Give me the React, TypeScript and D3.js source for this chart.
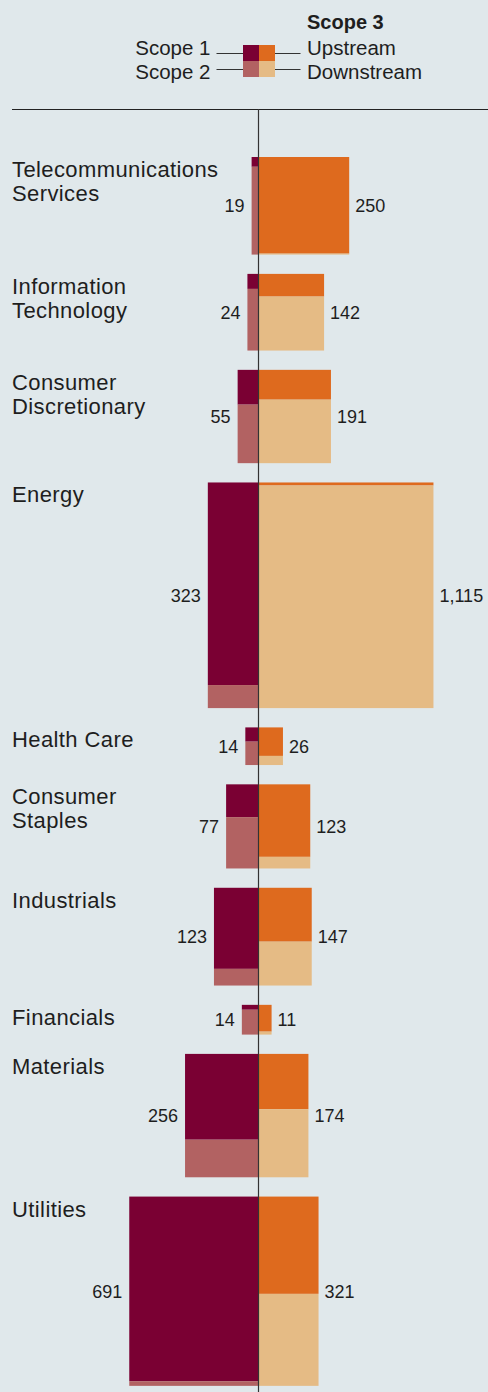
import React from "react";
import * as d3 from "d3";

const sectors: string[][] = [
  ["Telecommunications", "Services"],
  ["Information", "Technology"],
  ["Consumer", "Discretionary"],
  ["Energy"],
  ["Health Care"],
  ["Consumer", "Staples"],
  ["Industrials"],
  ["Financials"],
  ["Materials"],
  ["Utilities"],
];
const scope1 = [1.9, 4.7, 20.5, 290, 5.3, 30, 102, 2.3, 178, 674];
const scope2 = [17.1, 19.3, 34.5, 33, 8.7, 47, 21, 11.7, 78, 17];
const upstream = [247.5, 42, 61, 15, 19.7, 106, 81, 9.9, 78, 165];
const downstream = [2.5, 100, 130, 1100, 6.3, 17, 66, 1.1, 96, 156];

const legendLeft = ["Scope 1", "Scope 2"];
const legendRight = ["Upstream", "Downstream"];
const legendTitle = "Scope 3";

const W = 488;
const H = 1392;
const BG = "#e0e8eb";
const C_S1 = "#7a0033";
const C_S2 = "#b26262";
const C_UP = "#de6a1e";
const C_DOWN = "#e5bb85";
const TXT = "#1e1e1e";
const FONT = "'Liberation Sans', Arial, Helvetica, sans-serif";

const AXIS_X = 258.5;
const TOP0 = 157;
const GAP = 19.3;

export default function App() {
  const totals = scope1.map((_, i) => scope1[i] + scope2[i] + upstream[i] + downstream[i]);
  const side = d3.scaleSqrt().domain([0, 1438]).range([0, 5.95 * Math.sqrt(1438)]);
  const fmt = d3.format(",");

  let y = TOP0;
  const blocks = sectors.map((name, i) => {
    const left = scope1[i] + scope2[i];
    const right = upstream[i] + downstream[i];
    const s = side(totals[i]);
    const top = y;
    y += s + GAP;
    const xw = d3.scaleLinear().domain([0, totals[i]]).range([0, s]);
    const yl = d3.scaleLinear().domain([0, left]).range([top, top + s]);
    const yr = d3.scaleLinear().domain([0, right]).range([top, top + s]);
    return { name, i, left, right, s, top, xw, yl, yr };
  });

  return (
    <svg
      width={W}
      height={H}
      style={{ position: "absolute", left: 0, top: 0, display: "block" }}
      fontFamily={FONT}
    >
      <rect x={0} y={0} width={W} height={H} fill={BG} />

      {/* Legend */}
      <text x={307} y={28.5} fontSize={20} fontWeight="bold" fill={TXT}>
        {legendTitle}
      </text>
      <rect x={243} y={45} width={16} height={16} fill={C_S1} />
      <rect x={259} y={45} width={16} height={16} fill={C_UP} />
      <rect x={243} y={61} width={16} height={16} fill={C_S2} />
      <rect x={259} y={61} width={16} height={16} fill={C_DOWN} />
      <line x1={216.5} x2={243} y1={53.5} y2={53.5} stroke="#333" strokeWidth={1} />
      <line x1={216.5} x2={243} y1={69.5} y2={69.5} stroke="#333" strokeWidth={1} />
      <line x1={275} x2={300.5} y1={53.5} y2={53.5} stroke="#333" strokeWidth={1} />
      <line x1={275} x2={300.5} y1={69.5} y2={69.5} stroke="#333" strokeWidth={1} />
      {legendLeft.map((t, k) => (
        <text key={t} x={210.5} y={55 + k * 24} fontSize={20.5} textAnchor="end" fill={TXT}>
          {t}
        </text>
      ))}
      {legendRight.map((t, k) => (
        <text key={t} x={307} y={55 + k * 24} fontSize={20.5} fill={TXT}>
          {t}
        </text>
      ))}

      {/* Top rule */}
      <line x1={12} x2={W} y1={109.5} y2={109.5} stroke="#222" strokeWidth={1} />

      {blocks.map(({ name, i, left, right, s, top, xw, yl, yr }) => {
        const lw = xw(left);
        const rw = xw(right);
        const mid = top + s / 2;
        return (
          <g key={i}>
            {name.map((line, k) => (
              <text key={k} x={12} y={top + 20 + k * 24} fontSize={22} letterSpacing={0.4} fill={TXT}>
                {line}
              </text>
            ))}
            <rect x={AXIS_X - lw} y={yl(0)} width={lw} height={yl(scope1[i]) - yl(0)} fill={C_S1} />
            <rect x={AXIS_X - lw} y={yl(scope1[i])} width={lw} height={yl(left) - yl(scope1[i])} fill={C_S2} />
            <rect x={AXIS_X} y={yr(0)} width={rw} height={yr(upstream[i]) - yr(0)} fill={C_UP} />
            <rect x={AXIS_X} y={yr(upstream[i])} width={rw} height={yr(right) - yr(upstream[i])} fill={C_DOWN} />
            <text x={AXIS_X - lw - 7} y={mid} dy="0.35em" fontSize={18} textAnchor="end" fill={TXT}>
              {fmt(Math.round(left))}
            </text>
            <text x={AXIS_X + rw + 6} y={mid} dy="0.35em" fontSize={18} fill={TXT}>
              {fmt(Math.round(right))}
            </text>
          </g>
        );
      })}

      {/* Axis */}
      <line x1={AXIS_X} x2={AXIS_X} y1={109} y2={H} stroke="#333" strokeWidth={1.2} />
    </svg>
  );
}
